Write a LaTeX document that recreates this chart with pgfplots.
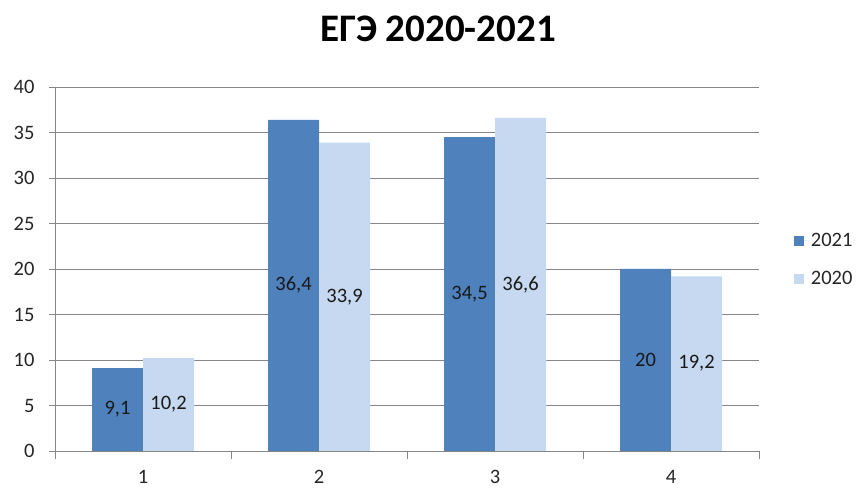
\documentclass[border=0pt]{standalone}
\usepackage{fontspec}
\setmainfont{Carlito}
\usepackage{pgfplots}
\pgfplotsset{compat=1.18}
\definecolor{darkb}{HTML}{4F81BD}
\definecolor{lightb}{HTML}{C6D9F1}
\definecolor{gridc}{HTML}{868686}
\begin{document}
\begin{tikzpicture}[x=1pt,y=1pt]
\path[use as bounding box] (0,0) rectangle (858,489);
\node[font=\bfseries\fontsize{39}{44}\selectfont] at (438,460) {ЕГЭ 2020-2021};
\begin{axis}[
  at={(55pt,38pt)}, anchor=south west,
  scale only axis, width=704pt, height=364pt,
  ymin=0, ymax=40, ytick={0,5,...,40},
  xmin=-0.5, xmax=3.5, xtick={0,1,2,3}, xticklabels={1,2,3,4},
  axis x line*=bottom, axis y line*=left,
  axis line style={gridc, -}, 
  ymajorgrids, major grid style={gridc, line width=0.8pt},
  y tick style={gridc, line width=0.8pt}, tick align=outside, major tick length=6pt,
  x tick style={draw=none},
  extra x ticks={-0.5,0.5,1.5,2.5,3.5}, extra x tick labels={},
  extra x tick style={major tick length=8pt, x tick style={draw=gridc, line width=0.8pt}, grid=none},
  tick label style={font=\fontsize{20.5}{23}\selectfont, text=black!85},
  /pgf/number format/assume math mode=true,
  yticklabel style={xshift=-11pt},
  xticklabel style={yshift=-12pt, inner sep=1pt},
  legend style={draw=none, at={(1.045,0.525)}, anchor=west, font=\fontsize{20.5}{23}\selectfont, row sep=19pt, text=black!85},
  legend cell align=left,
  legend image code/.code={\path (0pt,0pt) -- (15pt,0pt); \fill[#1] (0pt,-5pt) rectangle (10pt,5pt);},
  visualization depends on={y \as \rawy},
  nodes near coords={\pgfmathprintnumber[use comma,fixed,precision=1]{\pgfplotspointmeta}},
  nodes near coords style={anchor=center, font=\fontsize{20.5}{23}\selectfont, text=black!90, shift={(axis direction cs:0,-\rawy/2)}},
]
\addplot[ybar, bar width=51pt, bar shift=-25.5pt, fill=darkb, draw=none, every node near coord/.append style={xshift=-25.5pt}] coordinates {(0,9.1) (1,36.4) (2,34.5) (3,20)};
\addlegendentry{2021}
\addplot[ybar, bar width=51pt, bar shift=25.5pt, fill=lightb, draw=none, every node near coord/.append style={xshift=25.5pt}] coordinates {(0,10.2) (1,33.9) (2,36.6) (3,19.2)};
\addlegendentry{2020}
\end{axis}
\end{tikzpicture}
\end{document}
